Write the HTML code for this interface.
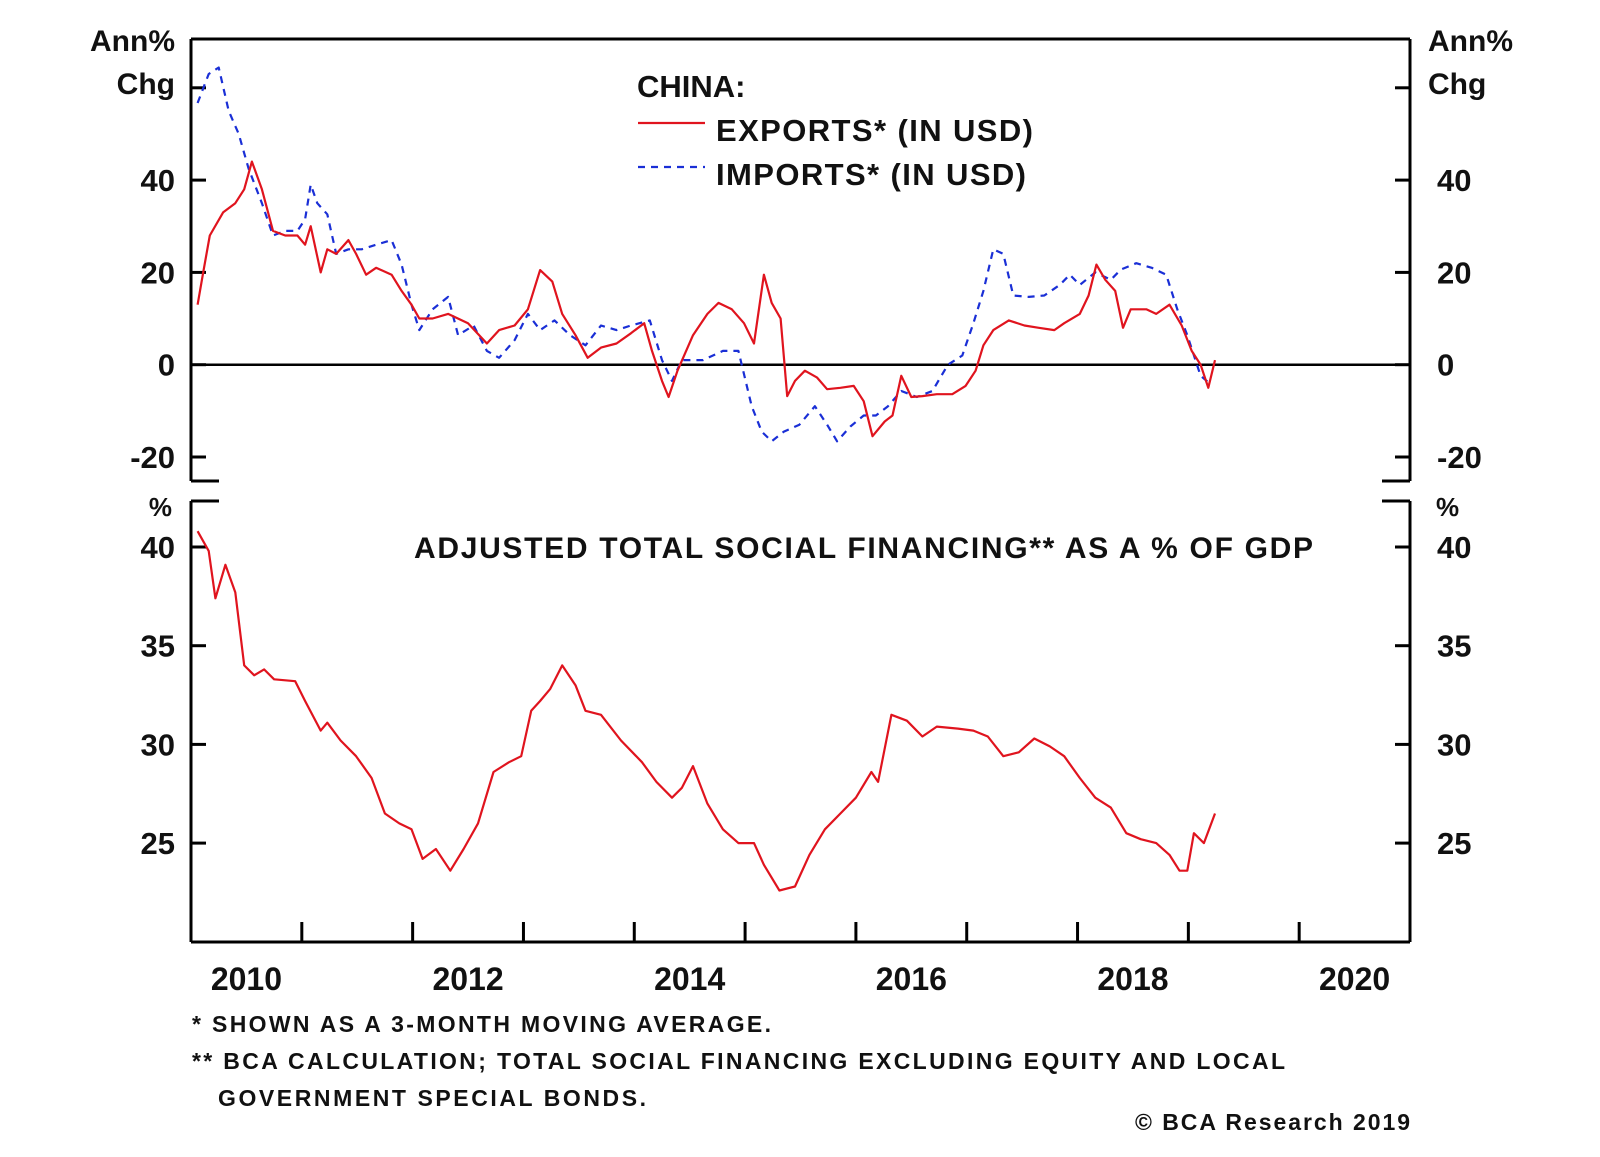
<!DOCTYPE html>
<html><head><meta charset="utf-8"><style>
html,body{margin:0;padding:0;background:#fff;}
svg text{font-family:"Liberation Sans",Arial,sans-serif;font-weight:bold;fill:#111;}
</style></head><body>
<svg id="chart" width="1600" height="1152" viewBox="0 0 1600 1152" xmlns="http://www.w3.org/2000/svg">
<g id="frame"></g>
<g id="marks"></g>
<g id="labels"></g>
</svg>
<script>
const exportDates=[2010.06,2010.11,2010.17,2010.29,2010.40,2010.48,2010.55,2010.64,2010.74,2010.85,2010.96,2011.03,2011.08,2011.17,2011.23,2011.31,2011.42,2011.49,2011.58,2011.67,2011.81,2011.90,2011.99,2012.06,2012.18,2012.32,2012.50,2012.67,2012.78,2012.92,2013.04,2013.15,2013.26,2013.35,2013.47,2013.58,2013.70,2013.84,2013.97,2014.09,2014.16,2014.25,2014.31,2014.39,2014.53,2014.66,2014.76,2014.88,2014.99,2015.08,2015.17,2015.24,2015.32,2015.38,2015.45,2015.54,2015.65,2015.74,2015.86,2015.98,2016.07,2016.15,2016.26,2016.33,2016.41,2016.50,2016.60,2016.73,2016.87,2016.99,2017.08,2017.15,2017.24,2017.38,2017.52,2017.65,2017.79,2017.88,2018.02,2018.10,2018.17,2018.25,2018.34,2018.41,2018.48,2018.62,2018.71,2018.83,2018.94,2019.03,2019.11,2019.18,2019.24];
const exportValues=[13,20,28,33,35,38,44,38,29,28,28,26,30,20,25,24,27,24,19.5,21,19.5,16,13,10,10,11,9,4.6,7.5,8.5,12,20.5,18,11,6.4,1.5,3.7,4.6,6.8,9,3,-3.5,-7,-1.3,6.4,11,13.4,12,9,4.6,19.5,13.4,10,-6.8,-3.5,-1.3,-2.8,-5.3,-5,-4.6,-7.9,-15.5,-12.3,-11,-2.4,-7,-6.8,-6.4,-6.4,-4.6,-1.3,4.2,7.5,9.6,8.5,8,7.5,9,11,15,21.7,18.4,16,8,12,12,11,13,8.5,3,0,-5,1];
const importDates=[2010.06,2010.16,2010.25,2010.34,2010.43,2010.52,2010.64,2010.74,2010.85,2010.96,2011.03,2011.08,2011.14,2011.23,2011.31,2011.42,2011.54,2011.67,2011.81,2011.90,2011.99,2012.06,2012.18,2012.32,2012.41,2012.55,2012.67,2012.78,2012.92,2013.04,2013.15,2013.28,2013.42,2013.56,2013.70,2013.84,2013.97,2014.14,2014.25,2014.34,2014.43,2014.62,2014.80,2014.94,2015.06,2015.15,2015.24,2015.35,2015.49,2015.63,2015.74,2015.83,2015.95,2016.07,2016.18,2016.29,2016.41,2016.55,2016.69,2016.83,2016.96,2017.06,2017.15,2017.24,2017.33,2017.42,2017.56,2017.70,2017.84,2017.93,2018.02,2018.16,2018.30,2018.39,2018.53,2018.67,2018.80,2018.90,2018.99,2019.11,2019.20];
const importValues=[56.7,63,64.4,55,50,42.5,35,28,29,29,31.5,39,35,32.6,24,25,25,26,27,21.7,13,7.5,12,14.7,6.4,8.5,3,1.5,5.3,11,7.5,9.6,6.4,4.2,8.5,7.5,8.5,9.6,1,-3.5,1,1,3,3,-9,-14.5,-16.6,-14.5,-13,-9,-13,-16.6,-13.4,-11,-11,-9,-5.7,-7,-5.7,0,2,9,16,25,24,15,14.7,15,17.3,19.5,17.3,20,18.4,20.6,22,21,19.5,12,6.4,-2.4,-4.2];
const tsfDates=[2010.06,2010.16,2010.22,2010.31,2010.40,2010.48,2010.57,2010.66,2010.75,2010.94,2011.03,2011.17,2011.23,2011.35,2011.49,2011.63,2011.75,2011.88,2011.99,2012.09,2012.21,2012.34,2012.46,2012.59,2012.73,2012.87,2012.98,2013.07,2013.15,2013.24,2013.35,2013.47,2013.56,2013.70,2013.88,2014.07,2014.20,2014.34,2014.43,2014.53,2014.66,2014.80,2014.94,2015.08,2015.17,2015.31,2015.45,2015.58,2015.72,2015.86,2016.00,2016.14,2016.20,2016.32,2016.46,2016.60,2016.73,2016.92,2017.06,2017.19,2017.33,2017.47,2017.61,2017.75,2017.88,2018.02,2018.16,2018.30,2018.44,2018.57,2018.71,2018.83,2018.92,2018.99,2019.05,2019.14,2019.24];
const tsfValues=[40.8,39.8,37.4,39.1,37.7,34,33.5,33.8,33.3,33.2,32.2,30.7,31.1,30.2,29.4,28.3,26.5,26,25.7,24.2,24.7,23.6,24.7,26,28.6,29.1,29.4,31.7,32.2,32.8,34,33,31.7,31.5,30.2,29.1,28.1,27.3,27.8,28.9,27,25.7,25,25,23.9,22.6,22.8,24.4,25.7,26.5,27.3,28.6,28.1,31.5,31.2,30.4,30.9,30.8,30.7,30.4,29.4,29.6,30.3,29.9,29.4,28.3,27.3,26.8,25.5,25.2,25,24.4,23.6,23.6,25.5,25,26.5];
const topTicks=[-20,0,20,40,60];
const topTickLabels=["-20","0","20","40",""];
const bottomTicks=[25,30,35,40];
const bottomTickLabels=["25","30","35","40"];
const yearLabels=["2010","2012","2014","2016","2018","2020"];

const NS="http://www.w3.org/2000/svg";
const L=191,R=1410,T1=39,B1=481,T2=501,B2=942;
const x=y=>L+(y-2010)*(R-L)/11;
const yTop=v=>364.7-v*4.615;
const yBot=v=>547+(40-v)*19.74;
function mk(parent,tag,attrs){const e=document.createElementNS(NS,tag);for(const k in attrs)e.setAttribute(k,attrs[k]);document.getElementById(parent).appendChild(e);return e;}
function line(x1,y1,x2,y2,sw){return mk('frame','line',{x1,y1,x2,y2,stroke:'#000','stroke-width':sw||3});}
function txt(s,tx,ty,size,anchor){const t=mk('labels','text',{x:tx,y:ty,'font-size':size,'text-anchor':anchor||'start'});t.textContent=s;return t;}

let e;
e=line(L,T1,R,T1);
e=line(L,T1,L,B1);
e=line(R,T1,R,B1);
e=line(L,B1,L+28,B1);
e=line(R-28,B1,R,B1);
e=line(L,T2,L+28,T2);
e=line(R-28,T2,R,T2);
e=line(L,T2,L,B2);
e=line(R,T2,R,B2);
e=line(L,B2,R,B2);
e=line(L,yTop(0),R,yTop(0),2.5);

topTicks.forEach((v,i)=>{
  const yy=yTop(v);
  let a=line(L,yy,L+15,yy);
  let b=line(R-15,yy,R,yy);
  if(topTickLabels[i]){
    let t1=txt(topTickLabels[i],175,yy+11,31,'end');
    let t2=txt(topTickLabels[i],1437,yy+11,31,'start');
  }
});
bottomTicks.forEach((v,i)=>{
  const yy=yBot(v);
  let a=line(L,yy,L+15,yy);
  let b=line(R-15,yy,R,yy);
  let t1=txt(bottomTickLabels[i],175,yy+11,31,'end');
  let t2=txt(bottomTickLabels[i],1437,yy+11,31,'start');
});
for(let yr=2011;yr<=2020;yr++){
  let a=line(x(yr),B2-20,x(yr),B2);
}
yearLabels.forEach(s=>{
  let t=txt(s,x(+s+0.5),990,32,'middle');
});

function path(dates,vals,ys,color,dash,name){
  const d=dates.map((dt,i)=>(i?'L':'M')+x(dt).toFixed(1)+','+ys(vals[i]).toFixed(1)).join(' ');
  const p=mk('marks','path',{d,fill:'none',stroke:color,'stroke-width':2.2,'stroke-linejoin':'round'});
  if(dash)p.setAttribute('stroke-dasharray',dash);
  
  
}
path(importDates,importValues,yTop,'#1a2fd6','7,6','imports-line');
path(exportDates,exportValues,yTop,'#e0141e',null,'exports-line');
path(tsfDates,tsfValues,yBot,'#e0141e',null,'tsf-line');

const T=[
 ['Ann%',175,51,30,'end','left-axis-unit',0],['Chg',175,94,30,'end','left-axis-unit',0],
 ['Ann%',1428,51,30,'start','right-axis-unit',0],['Chg',1428,94,30,'start','right-axis-unit',0],
 ['%',172,516,26,'end','left-percent-unit',0],['%',1436,516,26,'start','right-percent-unit',0],
 ['CHINA:',637,97,31,'start','legend-title',0],
 ['EXPORTS* (IN USD)',716,141,31,'start','legend-exports-label',317],
 ['IMPORTS* (IN USD)',716,185,31,'start','legend-imports-label',310],
 ['ADJUSTED TOTAL SOCIAL FINANCING** AS A % OF GDP',414,558,30,'start','bottom-panel-title',899],
 ['*  SHOWN AS A 3-MONTH MOVING AVERAGE.',192,1032,23,'start','footnote-1',579],
 ['** BCA CALCULATION; TOTAL SOCIAL FINANCING EXCLUDING EQUITY AND LOCAL',192,1069,23,'start','footnote-2',1093],
 ['GOVERNMENT SPECIAL BONDS.',218,1106,23,'start','footnote-2-cont',428],
 ['© BCA Research 2019',1135,1130,23,'start','copyright',275]
];
T.forEach(a=>{const t=txt(a[0],a[1],a[2],a[3],a[4]);if(a[6]){t.setAttribute('textLength',a[6]);t.setAttribute('lengthAdjust','spacing');}});
let l1=mk('labels','line',{x1:638,y1:123,x2:705,y2:123,stroke:'#e0141e','stroke-width':2.2});


let l2=mk('labels','line',{x1:638,y1:167,x2:705,y2:167,stroke:'#1a2fd6','stroke-width':2.2,'stroke-dasharray':'7,6'});


</script>
</body></html>
